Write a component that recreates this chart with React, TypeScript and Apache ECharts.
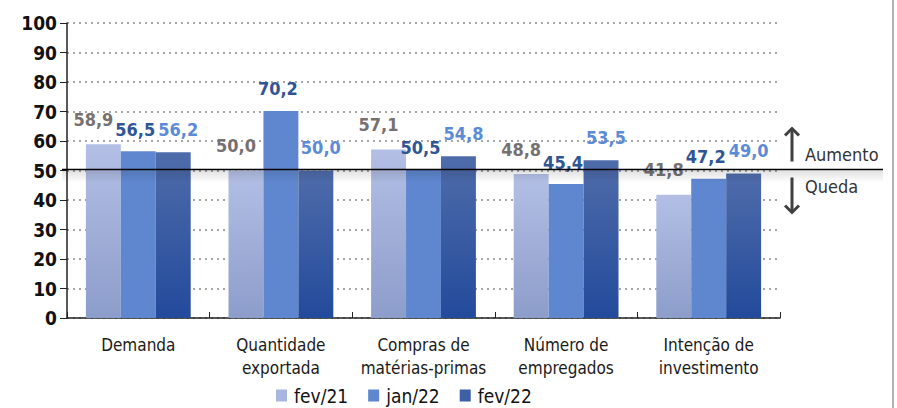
import React, { useEffect, useRef } from "react";
import * as echarts from "echarts";

const categories = [
  "Demanda",
  "Quantidade\nexportada",
  "Compras de\nmatérias-primas",
  "Número de\nempregados",
  "Intenção de\ninvestimento",
];
const seriesNames = ["fev/21", "jan/22", "fev/22"];
const fev21 = [58.9, 50.0, 57.1, 48.8, 41.8];
const jan22 = [56.5, 70.2, 50.5, 45.4, 47.2];
const fev22 = [56.2, 50.0, 54.8, 53.5, 49.0];
const yTicks = { min: 0, max: 100, interval: 10 };
const dividerValue = 50;

const FONT = "'DejaVu Sans Condensed', 'DejaVu Sans', sans-serif";

const fmt = (v: number) => v.toFixed(1).replace(".", ",");

export default function App() {
  const ref = useRef<HTMLDivElement>(null);
  useEffect(() => {
    if (!ref.current) return;
    const chart = echarts.init(ref.current, undefined, { renderer: "svg" });
    const grad = (top: string, bottom: string) =>
      new echarts.graphic.LinearGradient(0, 0, 0, 1, [
        { offset: 0, color: top },
        { offset: 1, color: bottom },
      ]);
    const mk = (
      name: string,
      data: number[],
      color: any,
      labelColor: string,
      dx: number,
      dist: number
    ) => ({
      name,
      type: "bar",
      data,
      barWidth: "24.5%",
      barGap: "0%",
      itemStyle: { color },
      label: {
        show: true,
        position: "top",
        distance: dist,
        offset: [dx, 0],
        formatter: (p: any) => fmt(p.value),
        color: labelColor,
        fontFamily: FONT,
        fontWeight: "bold",
        fontSize: 18,
      },
    });
    chart.setOption({
      animation: false,
      grid: { left: 67, right: 117, top: 23, bottom: 90, containLabel: false },
      legend: {
        left: 276,
        top: 386,
        padding: 0,
        icon: "rect",
        itemWidth: 11,
        itemHeight: 12,
        itemGap: 20,
        textStyle: { fontFamily: FONT, fontSize: 19, color: "#111", padding: [0, 0, 0, 2] },
        data: seriesNames.map((n, i) => ({
          name: n,
          itemStyle: { color: ["#a9b6df", "#5f87cf", "#3c5fa6"][i] },
        })),
      },
      xAxis: {
        type: "category",
        data: categories,
        boundaryGap: true,
        axisLine: { show: true, lineStyle: { color: "#222", width: 1.5 } },
        axisTick: { show: true, inside: true, length: 6, lineStyle: { color: "#222" } },
        axisLabel: {
          interval: 0,
          margin: 15,
          fontFamily: FONT,
          fontSize: 17,
          lineHeight: 23,
          color: "#1a1a1a",
        },
      },
      yAxis: {
        type: "value",
        min: yTicks.min,
        max: yTicks.max,
        interval: yTicks.interval,
        axisLine: { show: true, lineStyle: { color: "#222", width: 1.5 } },
        axisTick: { show: true, length: 7, lineStyle: { color: "#222" } },
        axisLabel: {
          margin: 10,
          fontFamily: FONT,
          fontSize: 19,
          fontWeight: "bold",
          color: "#111",
        },
        splitLine: {
          show: true,
          lineStyle: { color: "#a6a6a6", width: 2, type: [2, 4] },
        },
      },
      series: [
        mk(seriesNames[0], fev21, grad("#b3bfe5", "#8d9dca"), "#767171", -10, 16),
        mk(seriesNames[1], jan22, "#5f87cf", "#2f5597", -3, 13),
        mk(seriesNames[2], fev22, grad("#4f6caa", "#234a9b"), "#5b8bd8", 5, 14),
      ],
    });

    const y50 = chart.convertToPixel({ yAxisIndex: 0 }, dividerValue) as number;
    const ly = Math.round(y50) - 1.5;
    chart.setOption({
      graphic: [
        {
          type: "rect",
          id: "shadow",
          shape: { x: 62, y: ly + 1, width: 821, height: 12 },
          style: {
            fill: new echarts.graphic.LinearGradient(0, 0, 0, 1, [
              { offset: 0, color: "rgba(0,0,0,0.12)" },
              { offset: 1, color: "rgba(0,0,0,0)" },
            ]),
          },
          silent: true,
          z: 5,
        },
        {
          type: "line",
          id: "divider",
          shape: { x1: 62, y1: ly, x2: 883, y2: ly },
          style: { stroke: "#000", lineWidth: 1.5 },
          z: 10,
        },
        {
          type: "line",
          id: "border",
          shape: { x1: 893, y1: 0, x2: 893, y2: 408 },
          style: { stroke: "#9a9a9a", lineWidth: 1.5 },
        },
        {
          type: "line",
          id: "upShaft",
          shape: { x1: 792, y1: ly - 8, x2: 792, y2: ly - 40 },
          style: { stroke: "#404040", lineWidth: 3 },
        },
        {
          type: "polyline",
          id: "upHead",
          shape: { points: [[785, ly - 34], [792, ly - 41], [799, ly - 34]] },
          style: { stroke: "#404040", lineWidth: 3, fill: null },
        },
        {
          type: "line",
          id: "downShaft",
          shape: { x1: 792, y1: ly + 8, x2: 792, y2: ly + 42 },
          style: { stroke: "#404040", lineWidth: 3 },
        },
        {
          type: "polyline",
          id: "downHead",
          shape: { points: [[785, ly + 36], [792, ly + 43], [799, ly + 36]] },
          style: { stroke: "#404040", lineWidth: 3, fill: null },
        },
        {
          type: "text",
          id: "aumento",
          x: 805,
          y: ly - 15,
          style: {
            text: "Aumento",
            fontFamily: FONT,
            fontSize: 18,
            fill: "#333",
            verticalAlign: "middle",
          },
        },
        {
          type: "text",
          id: "queda",
          x: 805,
          y: ly + 17,
          style: {
            text: "Queda",
            fontFamily: FONT,
            fontSize: 18,
            fill: "#333",
            verticalAlign: "middle",
          },
        },
      ],
    });
    return () => chart.dispose();
  }, []);
  return <div ref={ref} style={{ width: 897, height: 408, position: "absolute", left: 0, top: 0 }} />;
}
